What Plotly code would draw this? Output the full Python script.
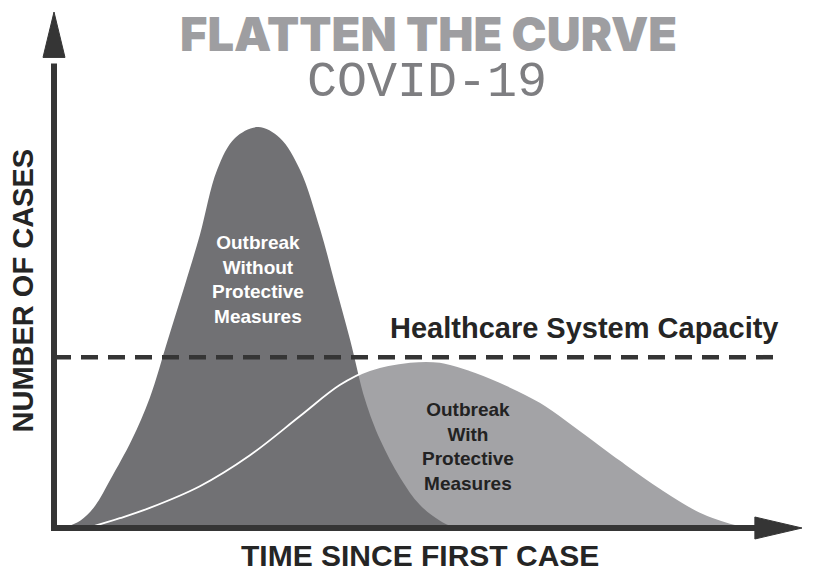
import plotly.graph_objects as go

# ---- data (time units 0-100, cases 0-100) ----
time_without = [1.2, 3.5, 5.5, 7.5, 10.4, 12.8, 15.2, 17.5, 19.5, 21.8, 24.2, 27.3,
                30.2, 32.9, 35.6, 37.6, 39.6, 41.6, 43.6, 46.3, 48.9, 51.6, 53.6]
cases_without = [0, 1.4, 4.3, 9.3, 17.1, 25.2, 36.4, 47.1, 56.8, 69.4, 75.6, 77.7,
                 75.6, 69.4, 57.8, 47.1, 36.4, 24.8, 17.1, 9.7, 4.5, 1.4, 0]

time_with = [4.5, 8.8, 12.8, 19.5, 26.2, 32.9, 38.2, 42.2, 47.6, 51.6, 55.6, 59.6,
             65.0, 70.3, 75.7, 81.0, 86.4, 90.4, 93.7]
cases_with = [0, 1.9, 3.9, 8.1, 14.1, 21.7, 27.7, 30.6, 32.2, 32.2, 30.6, 28.3,
              24.4, 19.0, 13.2, 7.8, 3.1, 1.0, 0]

capacity = 33.1
capacity_span = [0, 97]

title_text = "FLATTEN THE CURVE"
subtitle_text = "COVID-19"
x_label = "TIME SINCE FIRST CASE"
y_label = "NUMBER OF CASES"
capacity_label = "Healthcare System Capacity"
label_without = "Outbreak<br>Without<br>Protective<br>Measures"
label_with = "Outbreak<br>With<br>Protective<br>Measures"

DARK = "#717174"
LIGHT = "#a3a3a6"
AXIS = "#353535"

fig = go.Figure()

# light (flattened) curve fill
fig.add_trace(go.Scatter(x=time_with, y=cases_with, mode="lines",
                         line=dict(color=LIGHT, width=0, shape="spline", smoothing=1.0),
                         fill="tozeroy", fillcolor=LIGHT, hoverinfo="skip"))
# dark (unmitigated) curve fill
fig.add_trace(go.Scatter(x=time_without, y=cases_without, mode="lines",
                         line=dict(color=DARK, width=0, shape="spline", smoothing=1.0),
                         fill="tozeroy", fillcolor=DARK, hoverinfo="skip"))
# white outline of the light curve on top
fig.add_trace(go.Scatter(x=time_with, y=cases_with, mode="lines",
                         line=dict(color="white", width=1.8, shape="spline", smoothing=1.0),
                         hoverinfo="skip"))
# capacity dashed line
fig.add_trace(go.Scatter(x=capacity_span, y=[capacity, capacity], mode="lines",
                         line=dict(color=AXIS, width=4.5, dash="17px,10px"),
                         hoverinfo="skip"))

# axes with arrows (paper coordinates)
shapes = [
    dict(type="line", xref="paper", yref="paper", x0=0, y0=0, x1=0, y1=0.9,
         line=dict(color=AXIS, width=6)),
    dict(type="path", xref="paper", yref="paper",
         path="M -0.0147,0.912 L 0.0147,0.912 L 0,1.0 Z",
         fillcolor=AXIS, line=dict(color=AXIS, width=1)),
    dict(type="line", xref="paper", yref="paper", x0=-0.004, y0=0, x1=0.94, y1=0,
         line=dict(color=AXIS, width=6)),
    dict(type="path", xref="paper", yref="paper",
         path="M 0.937,0.0213 L 0.937,-0.0213 L 1.0,0 Z",
         fillcolor=AXIS, line=dict(color=AXIS, width=1)),
]

annotations = [
    dict(text=title_text, xref="paper", yref="paper", x=0.5, y=0.959,
         showarrow=False, xanchor="center", yanchor="middle",
         font=dict(family="Inter, Liberation Sans, Arial, sans-serif", size=47, color="#9e9ea1", weight=900)),
    dict(text=subtitle_text, xref="paper", yref="paper", x=0.499, y=0.864,
         showarrow=False, xanchor="center", yanchor="middle",
         font=dict(family="Liberation Mono, DejaVu Sans Mono, monospace", size=50, color="#7e7e81")),
    dict(text=y_label, xref="paper", yref="paper", x=-0.041, y=0.461, textangle=-90,
         showarrow=False, xanchor="center", yanchor="middle",
         font=dict(family="Liberation Sans, Arial, sans-serif", size=29, color="#252525", weight="bold")),
    dict(text=x_label, xref="paper", yref="paper", x=0.489, y=-0.054,
         showarrow=False, xanchor="center", yanchor="middle",
         font=dict(family="Liberation Sans, Arial, sans-serif", size=30, color="#252525", weight="bold")),
    dict(text=capacity_label, xref="paper", yref="paper", x=0.709, y=0.388,
         showarrow=False, xanchor="center", yanchor="middle",
         font=dict(family="Liberation Sans, Arial, sans-serif", size=29, color="#252525", weight="bold")),
    dict(text=label_without, xref="paper", yref="paper", x=0.273, y=0.481,
         showarrow=False, xanchor="center", yanchor="middle", align="center",
         font=dict(family="Liberation Sans, Arial, sans-serif", size=19, color="white", weight="bold")),
    dict(text=label_with, xref="paper", yref="paper", x=0.553, y=0.157,
         showarrow=False, xanchor="center", yanchor="middle", align="center",
         font=dict(family="Liberation Sans, Arial, sans-serif", size=19, color="#222222", weight="bold")),
]

# the page body adds an 8px offset, so the figure is 8px smaller and margins shifted
fig.update_layout(
    width=808, height=569,
    margin=dict(l=46, r=14, t=4, b=49),
    paper_bgcolor="white", plot_bgcolor="white",
    showlegend=False,
    shapes=shapes, annotations=annotations,
    xaxis=dict(range=[0, 100], visible=False, fixedrange=True),
    yaxis=dict(range=[0, 100], visible=False, fixedrange=True),
)

fig.write_html("out.html")
